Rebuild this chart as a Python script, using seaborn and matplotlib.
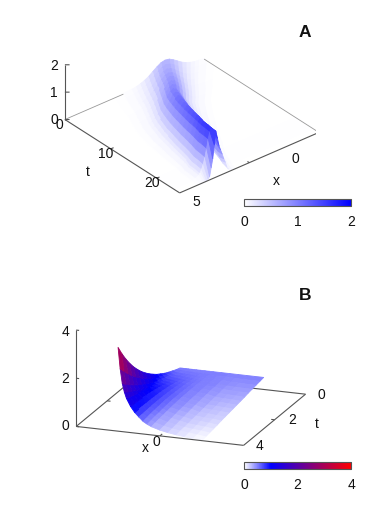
import matplotlib
matplotlib.use("Agg")
import matplotlib.pyplot as plt
from matplotlib.cm import ScalarMappable
from matplotlib.colors import Normalize
import numpy as np
import seaborn as sns

W, H = 392, 508

# panel A, values
# the grid follows the ridge: each t row has its crest position and width
a_t = [0, 1.25, 2.5, 3.75, 5, 6.25, 7.5, 8.75, 10, 11.25, 12.5, 13.75, 15, 16.25, 17.5, 18.75, 20, 21.25, 22.5, 23.75, 25]
a_crest = [-2.2, -1.85, -1.52, -1.2, -.9, -.58, -.25, .1, .35, .58, .8, .98, 1.17, 1.35, 1.52, 1.68, 1.88, 2.07, 2.17, 2.3, 2.4]
a_width = [1.2, 1.15, 1.1, 1.05, 1, .97, .93, .88, .85, .81, .78, .74, .7, .67, .63, .6, .55, .53, .5, .47, .45]
a_offset = [-30, -3, -2.5, -2, -1.75, -1.5, -1.25, -1, -.75, -.5, -.25, 0, .25, .5, .75, 1, 1.25, 1.5, 1.75, 2, 2.5, 3, 30]
# one flank up to the crest, the ridge is symmetric except for its last row
a_flank = [
    [0, .01, .02, .04, .06, .10, .16, .24, .35, .46, .55, .58],
    [0, .01, .02, .04, .07, .11, .17, .26, .37, .49, .58, .62],
    [0, .01, .02, .05, .07, .12, .19, .28, .40, .53, .63, .67],
    [0, .01, .02, .05, .08, .13, .20, .31, .44, .58, .69, .73],
    [0, .01, .02, .06, .09, .14, .22, .34, .48, .63, .75, .80],
    [0, .01, .03, .06, .09, .15, .24, .36, .51, .67, .80, .85],
    [0, .01, .03, .06, .10, .17, .26, .39, .55, .73, .86, .92],
    [0, .01, .03, .07, .11, .18, .27, .41, .59, .77, .92, .98],
    [0, .01, .03, .07, .11, .19, .29, .44, .62, .82, .98, 1.04],
    [0, .01, .03, .08, .12, .20, .31, .46, .66, .87, 1.03, 1.10],
    [0, .01, .03, .08, .13, .21, .32, .49, .70, .92, 1.09, 1.16],
    [0, .01, .04, .08, .13, .22, .34, .50, .72, .95, 1.13, 1.20],
    [0, .01, .04, .09, .14, .23, .35, .53, .76, 1.00, 1.18, 1.26],
    [0, .01, .04, .09, .15, .24, .37, .55, .79, 1.04, 1.24, 1.32],
    [0, .01, .04, .10, .15, .25, .38, .58, .82, 1.08, 1.29, 1.37],
    [0, .01, .04, .10, .16, .26, .40, .60, .86, 1.13, 1.34, 1.43],
    [0, .02, .05, .11, .17, .27, .42, .63, .90, 1.19, 1.41, 1.50],
    [0, .02, .05, .11, .17, .28, .44, .66, .94, 1.23, 1.47, 1.56],
    [0, .02, .05, .11, .18, .29, .45, .67, .96, 1.26, 1.50, 1.60],
    [0, .02, .05, .11, .18, .30, .46, .69, .98, 1.30, 1.54, 1.64],
    [0, 0, 0, 0, 0, 0, 0, 0, 0, 0, 0, 0],
]
a_last_row = [0, 0, .04, .10, .20, .40, .55, .75, .92, 1.10, 1.40, 1.68, 1.20, .72, .42, .12, .06, .02, 0, 0, 0, 0, 0]

# panel B, one line per x value, running over t
b_x = [-1, -.95, -.9, -.85, -.8, -.7, -.6, -.5, -.4, -.3, -.2, 0, .2, .4, .6, .8, 1]
b_t = [0, .25, .5, .75, 1, 1.25, 1.5, 1.75, 2, 2.25, 2.5, 2.75, 3, 3.25, 3.5, 3.75, 4]
b_z = [
    [.5, .56, .64, .72, .81, .92, 1.03, 1.17, 1.32, 1.49, 1.68, 1.90, 2.14, 2.42, 2.73, 3.08, 3.48],
    [.5, .55, .61, .68, .76, .84, .93, 1.03, 1.14, 1.27, 1.41, 1.56, 1.73, 1.92, 2.13, 2.36, 2.6],
    [.5, .55, .59, .65, .71, .77, .84, .92, 1.0, 1.09, 1.19, 1.30, 1.41, 1.54, 1.68, 1.83, 2.0],
    [.5, .54, .58, .62, .67, .72, .78, .84, .91, .98, 1.05, 1.13, 1.22, 1.32, 1.42, 1.53, 1.65],
    [.5, .54, .58, .62, .67, .72, .78, .84, .90, .96, 1.02, 1.08, 1.15, 1.21, 1.28, 1.34, 1.40],
    [.5, .53, .57, .61, .65, .70, .75, .80, .86, .91, .95, .98, 1.01, 1.04, 1.06, 1.07, 1.08],
    [.5, .53, .56, .60, .63, .67, .71, .75, .78, .80, .82, .83, .84, .84, .85, .85, .85],
    [.5, .52, .55, .58, .60, .63, .66, .68, .70, .71, .72, .72, .72, .71, .70, .69, .68],
    [.5, .52, .54, .56, .58, .60, .62, .63, .64, .65, .65, .64, .62, .60, .58, .55, .52],
    [.5, .51, .53, .54, .55, .56, .57, .58, .58, .58, .57, .55, .53, .50, .48, .45, .42],
    [.5, .51, .52, .52, .53, .53, .53, .52, .52, .51, .49, .47, .45, .42, .40, .37, .34],
    [.5, .50, .50, .50, .49, .48, .47, .46, .45, .43, .41, .39, .36, .33, .30, .27, .24],
    [.5, .50, .49, .48, .47, .46, .44, .42, .40, .38, .35, .32, .29, .26, .23, .20, .17],
    [.5, .48, .45, .43, .41, .38, .36, .34, .31, .29, .26, .24, .22, .19, .17, .15, .12],
    [.5, .47, .45, .42, .40, .37, .34, .32, .29, .26, .24, .21, .19, .16, .13, .11, .08],
    [.5, .47, .44, .41, .39, .36, .33, .30, .27, .24, .21, .19, .16, .13, .10, .07, .04],
    [.5, .47, .44, .41, .38, .34, .31, .28, .25, .22, .19, .16, .12, .09, .06, .03, 0],
]

sns.set_theme(style="white")
plt.rcParams["font.family"] = ["Liberation Sans", "DejaVu Sans"]
cmap_a = sns.blend_palette(["#ffffff", "#0000ff"], as_cmap=True)
cmap_b = sns.blend_palette(["#ffffff", "#0000ff", "#5500aa", "#aa0055", "#ff0000"], as_cmap=True)

axis_col = "#555555"
fig = plt.figure(figsize=(W / 100, H / 100), dpi=100)


def px_axes(left, top, right, bottom, **kw):
    return fig.add_axes([left / W, 1 - bottom / H, (right - left) / W, (bottom - top) / H], **kw)


def label(px, py, s, size=10, **kw):
    fig.text(px / W, 1 - py / H, s, ha="center", va="center", fontsize=size, color="#111111", **kw)


def seg(ax, xs, ys, zs, col=axis_col, lw=0.8, z=5):
    ax.plot(xs, ys, zs, color=col, lw=lw, zorder=z, solid_capstyle="butt")


# panel A
ax = px_axes(60.7, -25.7, 316.2, 229.8, projection="3d", proj_type="ortho", computed_zorder=False)
ax.view_init(elev=31.8, azim=-39.5)
ax.set_box_aspect((1, 1, 0.357))
ax.set_axis_off()
ax.set_xlim(0, 25)
ax.set_ylim(5, -5)
ax.set_zlim(0, 2)
T = np.repeat(np.array(a_t)[:, None], len(a_offset), axis=1)
X = np.clip(np.array(a_crest)[:, None] + np.array(a_width)[:, None] * np.array(a_offset), -5, 5)
flank = np.array(a_flank)
Z = np.hstack([flank, flank[:, -2::-1]])
Z[-1] = a_last_row
surf = ax.plot_surface(T, X, Z, cmap=cmap_a, vmin=0, vmax=2, shade=False, rstride=1, cstride=1,
                       linewidth=0.6, antialiased=True, zorder=2)
surf.set_edgecolor("face")
seg(ax, [0, 0], [5, 0.8], [0, 0], col="#999999", lw=0.6, z=3)
seg(ax, [0, 25], [-5, -5], [0, 0], col="#999999", lw=0.6, z=3)
seg(ax, [0, 25], [5, 5], [0, 0])
seg(ax, [25, 25], [5, -5], [0, 0])
seg(ax, [0, 0], [5, 5], [0, 2])
for v in [0, 1, 2]:
    seg(ax, [0, 0.41], [5, 4.8], [v, v])
for v in [10, 20]:
    seg(ax, [v, v], [5, 4.8], [0, 0])
seg(ax, [25, 24.6], [0, 0], [0, 0])

label(54, 66, "2")
label(54, 93, "1")
label(54, 120, "0")
label(59.3, 125, "0")
label(106, 154.3, "10")
label(151.7, 182.7, "20")
label(87.7, 171.7, "t")
label(295, 159, "0")
label(196.7, 201.7, "5")
label(276.7, 180.7, "x")
label(305, 32.7, "A", size=12.5, fontweight="bold")

# panel B
ax = px_axes(55.3, 233.7, 319.3, 497.7, projection="3d", proj_type="ortho", computed_zorder=False)
ax.view_init(elev=17.8, azim=-69.7)
ax.set_box_aspect((1, 1, 0.567))
ax.set_axis_off()
ax.set_xlim(-2, 2)
ax.set_ylim(4, 0)
ax.set_zlim(0, 4)
X, T = np.meshgrid(b_x, b_t, indexing="xy")
seg(ax, [-2, -2], [4, 0], [0, 0], z=1)
seg(ax, [-2, 2], [0, 0], [0, 0], z=1)
seg(ax, [-2, -1.92], [2, 2], [0, 0], z=1)
surf = ax.plot_surface(X, T, np.array(b_z).T, cmap=cmap_b, vmin=0, vmax=4, shade=False, rstride=1, cstride=1,
                       linewidth=0.6, antialiased=True, zorder=2)
surf.set_edgecolor("face")
seg(ax, [-2, 2], [4, 4], [0, 0])
seg(ax, [2, 2], [4, 0], [0, 0])
seg(ax, [-2, -2], [4, 4], [0, 4])
for v in [0, 2, 4]:
    seg(ax, [-2, -1.93], [4, 4], [v, v])
seg(ax, [0, 0], [4, 3.85], [0, 0])
seg(ax, [2, 1.92], [2, 2], [0, 0])

label(65, 332, "4")
label(65, 379, "2")
label(65, 426, "0")
label(156.7, 441.7, "0")
label(145, 448, "x")
label(321.7, 395, "0")
label(291.7, 420, "2")
label(260, 445.7, "4")
label(316.7, 424, "t")
label(305, 295.7, "B", size=12.5, fontweight="bold")


def colour_bar(top, cmap, vmax, ticks):
    cax = px_axes(244, top, 351, top + 7.3)
    cb = fig.colorbar(ScalarMappable(Normalize(0, vmax), cmap), cax=cax, orientation="horizontal")
    cb.set_ticks(ticks)
    cb.set_ticklabels([str(v) for v in ticks])
    cax.tick_params(axis="x", direction="in", length=2, width=0.7, color="#222222", pad=6.5,
                    labelsize=10, top=True, labelcolor="#111111")
    cb.outline.set_edgecolor(axis_col)
    cb.outline.set_linewidth(0.8)


colour_bar(198.7, cmap_a, 2, [0, 1, 2])
colour_bar(462, cmap_b, 4, [0, 2, 4])

fig.savefig("out.png", dpi=100)
